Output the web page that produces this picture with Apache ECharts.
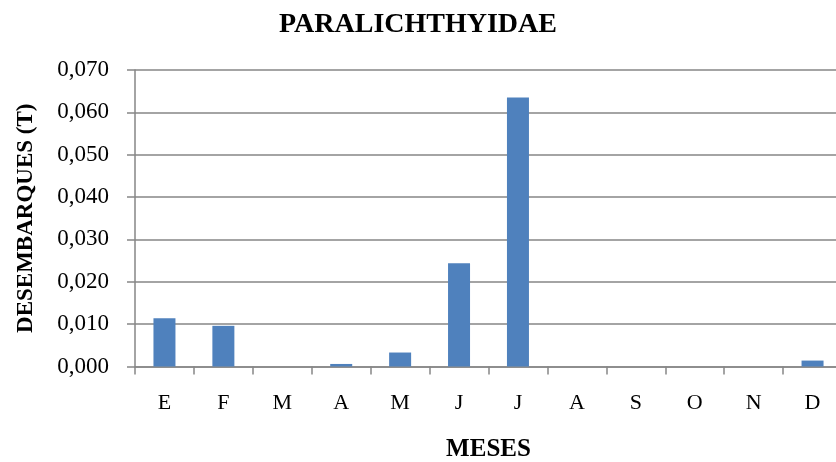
<!DOCTYPE html>
<html>
<head>
<meta charset="utf-8">
<script src="https://cdn.jsdelivr.net/npm/echarts@6/dist/echarts.min.js"></script>
<style>
  html, body { margin: 0; padding: 0; background: #fff; }
  #chart { width: 836px; height: 462px; }
</style>
</head>
<body>
<div id="chart"></div>
<script>
// Monthly landings of Paralichthyidae (tonnes)
const months = ['E', 'F', 'M', 'A', 'M', 'J', 'J', 'A', 'S', 'O', 'N', 'D'];
const landings = [0.0114, 0.0096, 0, 0.0006, 0.0033, 0.0244, 0.0635, 0, 0, 0, 0, 0.0014];
const chartTitle = 'PARALICHTHYIDAE';
const yName = 'DESEMBARQUES (T)';
const xName = 'MESES';

const serif = '"Liberation Serif", "Times New Roman", serif';
const gridGray = '#868686';

const chart = echarts.init(document.getElementById('chart'), null, { renderer: 'canvas' });
chart.setOption({
  animation: false,
  backgroundColor: '#ffffff',
  title: {
    text: chartTitle,
    left: 'center',
    top: 11,
    padding: 0,
    textStyle: { fontFamily: serif, fontWeight: 'bold', fontSize: 28, color: '#000' }
  },
  grid: { left: 135, right: -6, top: 70, bottom: 95.5, containLabel: false, outerBoundsMode: 'none' },
  xAxis: {
    type: 'category',
    data: months,
    name: xName,
    nameLocation: 'middle',
    nameGap: 71,
    nameTextStyle: { fontFamily: serif, fontWeight: 'bold', fontSize: 25, color: '#000' },
    axisLine: { show: true, lineStyle: { color: gridGray, width: 1.5 } },
    axisTick: { show: true, length: 8, alignWithLabel: false, lineStyle: { color: gridGray, width: 1.5 } },
    axisLabel: { fontFamily: serif, fontSize: 22, color: '#000', margin: 26 },
    splitLine: { show: false }
  },
  yAxis: {
    type: 'value',
    min: 0,
    max: 0.07,
    interval: 0.01,
    name: yName,
    nameLocation: 'middle',
    nameRotate: 90,
    nameGap: 97,
    nameTextStyle: { fontFamily: serif, fontWeight: 'bold', fontSize: 23, color: '#000' },
    axisLine: { show: true, lineStyle: { color: gridGray, width: 1.5 } },
    axisTick: { show: true, length: 8, lineStyle: { color: gridGray, width: 1.5 } },
    axisLabel: {
      fontFamily: serif, fontSize: 23, color: '#000', margin: 26,
      formatter: v => v.toFixed(3).replace('.', ',')
    },
    splitLine: { show: true, lineStyle: { color: gridGray, width: 1.5 } }
  },
  series: [{
    type: 'bar',
    data: landings,
    barWidth: 22,
    itemStyle: { color: '#4f81bd' }
  }]
});
</script>
</body>
</html>
